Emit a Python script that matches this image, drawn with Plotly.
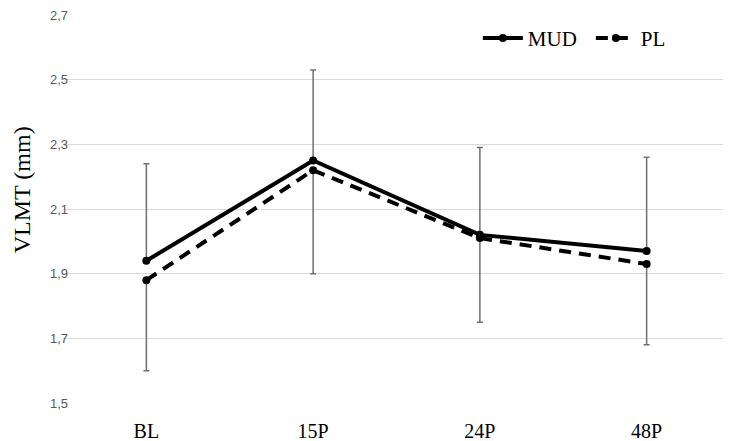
import plotly.graph_objects as go

categories = ["BL", "15P", "24P", "48P"]
mud = [1.94, 2.25, 2.02, 1.97]
pl = [1.88, 2.22, 2.01, 1.93]
mud_err_up = [0.30, 0.28, 0.27, 0.29]
pl_err_down = [0.28, 0.32, 0.26, 0.25]
y_ticks = [1.5, 1.7, 1.9, 2.1, 2.3, 2.5, 2.7]

fig = go.Figure()
fig.add_trace(go.Scatter(
    x=categories, y=mud, name="MUD", mode="lines+markers",
    line=dict(color="black", width=4),
    marker=dict(color="black", size=8),
    error_y=dict(type="data", symmetric=False, array=mud_err_up,
                 arrayminus=[0] * len(mud), color="#707070", thickness=1.5, width=3),
))
fig.add_trace(go.Scatter(
    x=categories, y=pl, name="PL", mode="lines+markers",
    line=dict(color="black", width=4, dash="12px,8px"),
    marker=dict(color="black", size=8),
    error_y=dict(type="data", symmetric=False, array=[0] * len(pl),
                 arrayminus=pl_err_down, color="#707070", thickness=1.5, width=3),
))

fig.add_annotation(
    text="VLMT (mm)", textangle=-90, xref="paper", yref="paper",
    x=-0.062, y=0.55, xanchor="center", yanchor="middle", showarrow=False,
    font=dict(family="Liberation Serif", size=24, color="black"),
)

fig.update_layout(
    width=731, height=441,
    margin=dict(l=55, r=9, t=7, b=46, autoexpand=False),
    paper_bgcolor="white", plot_bgcolor="white",
    separators=", ",
    showlegend=True,
    legend=dict(orientation="h", x=0.622, y=0.94, xanchor="left", yanchor="middle",
                font=dict(family="Liberation Serif", size=21, color="black"),
                bgcolor="rgba(0,0,0,0)", itemwidth=40, traceorder="normal",
                entrywidth=58, entrywidthmode="pixels"),
    xaxis=dict(showgrid=False, showline=False, ticks="", automargin=False,
               tickfont=dict(family="Liberation Serif", size=20, color="black"),
               ticklabelstandoff=14,
               range=[-0.5, 3.5]),
    yaxis=dict(range=[1.5, 2.7], tickvals=y_ticks, tickformat=".1f", automargin=False,
               showgrid=True, gridcolor="#d9d9d9", gridwidth=1.2,
               zeroline=False, showline=False, ticks="", ticklen=0,
               ticklabelstandoff=-6, ticklabeloverflow="allow",
               tickfont=dict(family="Liberation Sans", size=13, color="#595959")),
)

fig.write_html("out.html")
